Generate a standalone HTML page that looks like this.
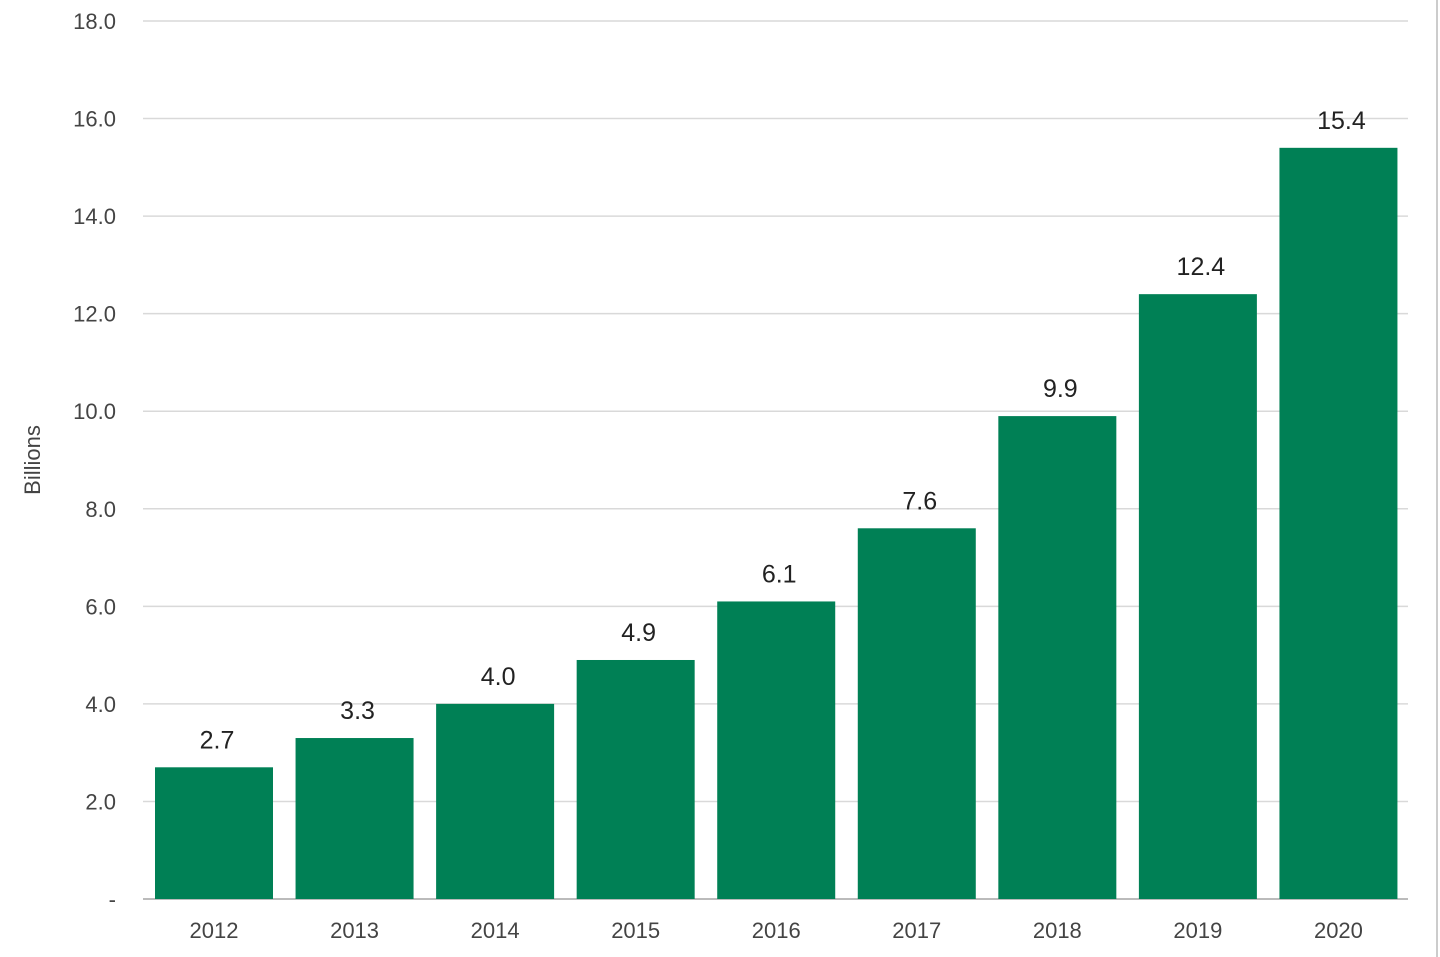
<!DOCTYPE html>
<html><head><meta charset="utf-8"><style>
body{margin:0;background:#fff;}
svg{display:block;font-family:"Liberation Sans",sans-serif;}
</style></head><body>
<svg id="chart" width="1440" height="957">
<line x1="1437" y1="0" x2="1437" y2="957" stroke="#ccc" stroke-width="2"/>
<text x="40" y="460" transform="rotate(-90 40 460)" text-anchor="middle" font-size="22" fill="#444">Billions</text>
<g id="grid"></g><g id="bars"></g><g id="labels"></g>
</svg>
<script>
const categories=["2012","2013","2014","2015","2016","2017","2018","2019","2020"];
const values=[2.7,3.3,4.0,4.9,6.1,7.6,9.9,12.4,15.4];
const yTicks=[0,2,4,6,8,10,12,14,16,18];
const yTickLabels=["-","2.0","4.0","6.0","8.0","10.0","12.0","14.0","16.0","18.0"];
const NS="http://www.w3.org/2000/svg";
const x0=143,x1=1408,y0=899,y1=21,yMax=18;
const band=(x1-x0)/categories.length;
const y=v=>y0-(v/yMax)*(y0-y1);
const xb=i=>x0+i*band+12;
const bw=118;
function mk(t,a,p){const e=document.createElementNS(NS,t);for(const k in a)e.setAttribute(k,a[k]);p.appendChild(e);return e;}
const g=document.getElementById('grid'),b=document.getElementById('bars'),l=document.getElementById('labels');
yTicks.forEach((t,i)=>{
  const ln=mk('line',{x1:x0,x2:x1,y1:y(t),y2:y(t),stroke:t===0?'#bbb':'#d9d9d9','stroke-width':t===0?2:1.5},g);
  
  
  const tx=mk('text',{x:116,y:y(t)+8,'text-anchor':'end','font-size':22,fill:'#444'},g);
  tx.textContent=yTickLabels[i];
  
  
});
categories.forEach((c,i)=>{
  const r=mk('rect',{x:xb(i),y:y(values[i]),width:bw,height:y0-y(values[i]),fill:'#008055'},b);
  
  
  const v=mk('text',{x:xb(i)+bw/2+3,y:y(values[i])-19,'text-anchor':'middle','font-size':25,fill:'#222'},l);
  v.textContent=values[i].toFixed(1);
  
  
  const xt=mk('text',{x:xb(i)+bw/2,y:938,'text-anchor':'middle','font-size':22,fill:'#444'},l);
  xt.textContent=c;
  
  
});
</script>
</body></html>
